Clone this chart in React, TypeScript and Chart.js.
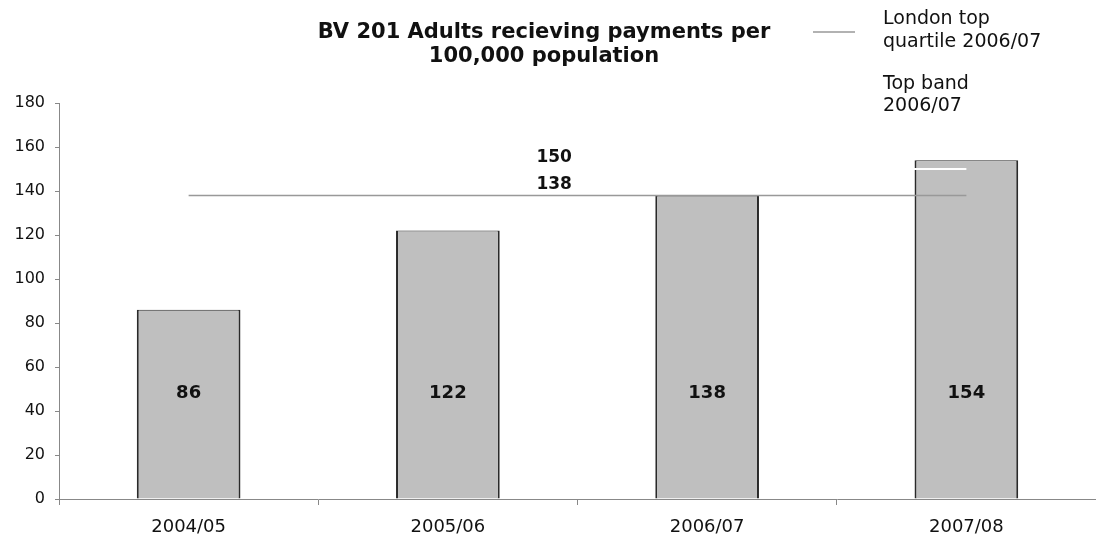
import React, { useEffect, useRef } from "react";
import { Chart, registerables } from "chart.js";

Chart.register(...registerables);

const categories = ["2004/05", "2005/06", "2006/07", "2007/08"];
const adultsValues = [86, 122, 138, 154];
const londonTopQuartile = [138, 138, 138, 138];
const topBand = [150, 150, 150, 150];
const titleLines = ["BV 201 Adults recieving payments per", "100,000 population"];
const legendLondon = ["London top", "quartile 2006/07"];
const legendTopBand = ["Top band", "2006/07"];
const yTicks = [0, 20, 40, 60, 80, 100, 120, 140, 160, 180];

const FONT = "'DejaVu Sans', 'Liberation Sans', Arial, sans-serif";
const BAR_LABEL_LEVEL = 48;
const REF_LABEL_INDEX = 1.41;

const overlayPlugin = {
  id: "overlay",
  afterDraw(chart: any) {
    const ctx = chart.ctx;
    const x = chart.scales.x;
    const y = chart.scales.y;
    ctx.save();
    ctx.fillStyle = "#111";
    ctx.textAlign = "center";
    ctx.textBaseline = "middle";

    // title
    ctx.font = `bold 21px ${FONT}`;
    ctx.fillText(titleLines[0], 544, 33);
    ctx.fillText(titleLines[1], 544, 57);

    // legend
    ctx.strokeStyle = "#999";
    ctx.lineWidth = 1.5;
    ctx.beginPath();
    ctx.moveTo(813, 32);
    ctx.lineTo(855, 32);
    ctx.stroke();
    ctx.textAlign = "left";
    ctx.font = `19px ${FONT}`;
    ctx.fillText(legendLondon[0], 883, 19);
    ctx.fillText(legendLondon[1], 883, 42);
    ctx.fillText(legendTopBand[0], 883, 84);
    ctx.fillText(legendTopBand[1], 883, 106);

    // bar value labels
    ctx.textAlign = "center";
    ctx.font = `bold 18px ${FONT}`;
    adultsValues.forEach((v, i) => {
      ctx.fillText(String(v), x.getPixelForValue(i), y.getPixelForValue(BAR_LABEL_LEVEL));
    });

    // reference line labels
    ctx.font = `bold 17px ${FONT}`;
    const x1 = x.getPixelForValue(1);
    const x2 = x.getPixelForValue(2);
    const lx = x1 + (REF_LABEL_INDEX - 1) * (x2 - x1);
    ctx.fillText(String(topBand[0]), lx, y.getPixelForValue(topBand[0]) - 11);
    ctx.fillText(String(londonTopQuartile[0]), lx, y.getPixelForValue(londonTopQuartile[0]) - 11);
    ctx.restore();
  },
};

export default function App() {
  const ref = useRef<HTMLCanvasElement | null>(null);
  useEffect(() => {
    if (!ref.current) return;
    const chart = new Chart(ref.current, {
      type: "bar",
      data: {
        labels: categories,
        datasets: [
          {
            type: "line",
            label: "London top quartile 2006/07",
            data: londonTopQuartile,
            borderColor: "#999",
            borderWidth: 1.5,
            pointRadius: 0,
            fill: false,
            order: 0,
          } as any,
          {
            type: "line",
            label: "Top band 2006/07",
            data: topBand,
            borderColor: "#ffffff",
            borderWidth: 2,
            pointRadius: 0,
            fill: false,
            order: 0,
          } as any,
          {
            type: "bar",
            label: "Adults",
            data: adultsValues,
            backgroundColor: "#bfbfbf",
            borderColor: "#2a2a2a",
            borderWidth: { top: 1, left: 2, right: 2, bottom: 0 },
            borderSkipped: "bottom",
            barPercentage: 0.4,
            categoryPercentage: 1,
            order: 1,
          } as any,
        ],
      },
      options: {
        animation: false,
        responsive: true,
        maintainAspectRatio: false,
        devicePixelRatio: 1,
        layout: { padding: { top: 103, right: 0, left: 0, bottom: 0 } },
        plugins: {
          legend: { display: false },
          title: { display: false },
          tooltip: { enabled: false },
        },
        scales: {
          x: {
            grid: {
              display: true,
              offset: true,
              drawOnChartArea: false,
              drawTicks: true,
              tickLength: 6,
              color: "#888",
            },
            border: { display: true, color: "#888", width: 1 },
            ticks: {
              font: { family: FONT, size: 18 },
              color: "#111",
              padding: 12,
              maxRotation: 0,
            },
            afterFit(scale: any) {
              scale.height = 40;
            },
          },
          y: {
            min: 0,
            max: 180,
            afterBuildTicks(scale: any) {
              scale.ticks = yTicks.map((v) => ({ value: v }));
            },
            grid: {
              display: true,
              drawOnChartArea: false,
              drawTicks: true,
              tickLength: 4,
              color: "#888",
            },
            border: { display: true, color: "#888", width: 1 },
            ticks: {
              font: { family: FONT, size: 16 },
              color: "#111",
              padding: 10,
            },
            afterFit(scale: any) {
              scale.width = 59;
            },
          },
        },
      },
      plugins: [overlayPlugin],
    });
    return () => chart.destroy();
  }, []);
  return (
    <div style={{ position: "absolute", left: 0, top: 0, width: 1096, height: 539, background: "#fff" }}>
      <canvas ref={ref} />
    </div>
  );
}
